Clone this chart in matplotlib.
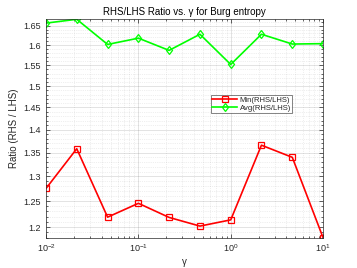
import numpy as np
import matplotlib
matplotlib.use("Agg")
import matplotlib.pyplot as plt
from matplotlib.ticker import FixedLocator, MultipleLocator, NullFormatter, FuncFormatter

plt.rcParams['font.family'] = ['Liberation Sans', 'DejaVu Sans']

gamma = [0.01, 0.0215, 0.0464, 0.1, 0.215, 0.464, 1.0, 2.15, 4.64, 10.0]
min_ratio = [1.2757, 1.3584, 1.2190, 1.2460, 1.2185, 1.2019, 1.2138, 1.3660, 1.3400, 1.1800]
avg_ratio = [1.657, 1.667, 1.602, 1.618, 1.587, 1.628, 1.552, 1.628, 1.603, 1.604]
yticks = [1.2, 1.25, 1.3, 1.35, 1.4, 1.45, 1.5, 1.55, 1.6, 1.65]
ytick_labels = ['1.2', '1.25', '1.3', '1.35', '1.4', '1.45', '1.5', '1.55', '1.6', '1.65']

axcol = (0.15, 0.15, 0.15)
fig = plt.figure(figsize=(3.57, 2.68), dpi=100)
ax = fig.add_axes([0.129, 0.113, 0.776, 0.815])

ax.plot(gamma, min_ratio, color=(1, 0, 0), lw=1.2, marker='s', ms=4,
        mfc='none', mec=(1, 0, 0), mew=0.9, label='Min(RHS/LHS)')
ax.plot(gamma, avg_ratio, color=(0, 1, 0), lw=1.2, marker='d', ms=4.5,
        mfc='none', mec=(0, 1, 0), mew=0.9, label='Avg(RHS/LHS)')

ax.set_xscale('log')
ax.set_yscale('log')
ax.set_xlim(gamma[0], gamma[-1])
ax.set_ylim(min(min_ratio), max(avg_ratio))

ax.yaxis.set_major_locator(FixedLocator(yticks))
ax.yaxis.set_major_formatter(FuncFormatter(lambda v, p: ytick_labels[yticks.index(round(v, 2))] if round(v, 2) in yticks else ''))
ax.yaxis.set_minor_locator(MultipleLocator(0.01))
ax.yaxis.set_minor_formatter(NullFormatter())

ax.grid(True, which='major', color=axcol, alpha=0.18, lw=0.5, ls='-')
ax.grid(True, which='minor', color=axcol, alpha=0.15, lw=0.5, ls=':')
ax.set_axisbelow(True)

for s in ax.spines.values():
    s.set_color(axcol)
    s.set_linewidth(0.5)
ax.tick_params(which='both', direction='in', top=True, right=True, colors=axcol,
               labelsize=6.5, width=0.5)
ax.tick_params(which='major', length=3)
ax.tick_params(which='minor', length=1.5)

ax.set_title('RHS/LHS Ratio vs. \u03b3 for Burg entropy', fontsize=7, color='black', pad=3)
ax.set_xlabel('\u03b3', fontsize=7, color=axcol, labelpad=2)
ax.set_ylabel('Ratio (RHS / LHS)', fontsize=7, color=axcol, labelpad=3)

leg = ax.legend(loc='upper left', bbox_to_anchor=(0.594, 0.655), fontsize=5.5,
                frameon=True, fancybox=False, edgecolor=axcol, borderpad=0.2,
                handlelength=3.3, handletextpad=0.3, labelspacing=0.1, borderaxespad=0)
leg.get_frame().set_linewidth(0.5)
for t in leg.get_texts():
    t.set_color(axcol)

fig.savefig('out.png', dpi=100, facecolor='white')
